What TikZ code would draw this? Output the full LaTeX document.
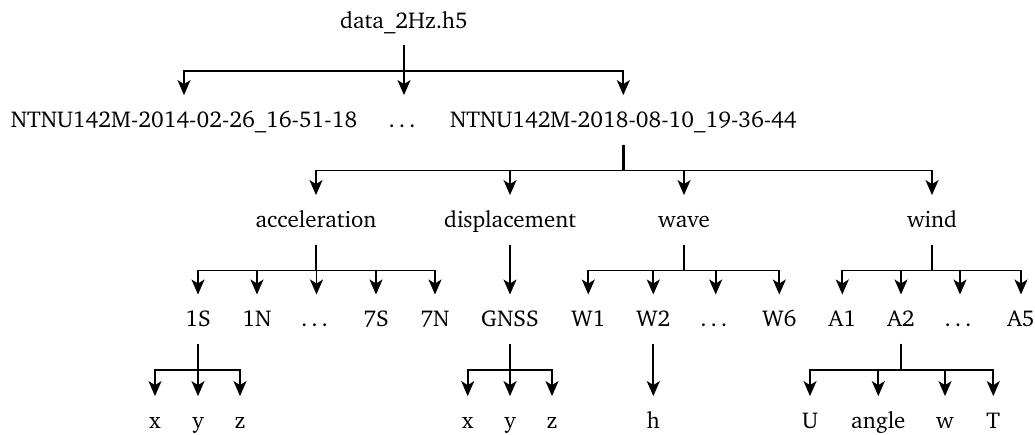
\documentclass[tikz,border=0pt]{standalone}
\usepackage[T1]{fontenc}
\usepackage{charter}
\usetikzlibrary{arrows.meta}
\begin{document}
\begin{tikzpicture}[x=1pt,y=-1pt,
  lbl/.style={anchor=base,inner xsep=0pt,inner ysep=13pt,text height=19pt,text depth=4pt,font=\fontsize{22.9}{26}\selectfont},
  arr/.style={line width=1.8pt,-{Stealth[length=15pt,width=13pt,inset=4pt]}},
  stem/.style={line width=2.8pt}]
\useasboundingbox (0,0) rectangle (1035,434);
% level 0
\node[lbl] (root) at (404,28) {data\_2Hz.h5};
% level 1
\node[lbl] (n14) at (184,127.3) {NTNU142M-2014-02-26\_16-51-18};
\node[lbl] (d1) at (404,127.3) {\dots};
\node[lbl] (n18) at (623.3,127.3) {NTNU142M-2018-08-10\_19-36-44};
% level 2
\node[lbl] (acc) at (316,227.3) {acceleration};
\node[lbl] (dis) at (510,227.3) {displacement};
\node[lbl] (wav) at (684,227.3) {wave};
\node[lbl] (win) at (932,227.3) {wind};
% level 3
\node[lbl] (s1) at (198,326.7) {1S};
\node[lbl] (n1) at (257,326.7) {1N};
\node[lbl] (da) at (316.5,326.7) {\dots};
\node[lbl] (s7) at (376,326.7) {7S};
\node[lbl] (n7) at (435,326.7) {7N};
\node[lbl] (gnss) at (510,326.7) {GNSS};
\node[lbl] (w1) at (588.3,326.7) {W1};
\node[lbl] (w2) at (653.3,326.7) {W2};
\node[lbl] (dw) at (715.7,326.7) {\dots};
\node[lbl] (w6) at (779.3,326.7) {W6};
\node[lbl] (a1) at (842.3,326.7) {A1};
\node[lbl] (a2) at (901,326.7) {A2};
\node[lbl] (dd) at (960,326.7) {\dots};
\node[lbl] (a5) at (1021,326.7) {A5};
% level 4
\node[lbl] (sx) at (155,428.3) {x};
\node[lbl] (sy) at (198,428.3) {y};
\node[lbl] (sz) at (240,428.3) {z};
\node[lbl] (gx) at (467.7,428.3) {x};
\node[lbl] (gy) at (510,428.3) {y};
\node[lbl] (gz) at (552,428.3) {z};
\node[lbl] (h) at (653.3,428.3) {h};
\node[lbl] (u) at (810,428.3) {U};
\node[lbl] (ang) at (878.3,428.3) {angle};
\node[lbl] (w) at (945,428.3) {w};
\node[lbl] (t) at (993.3,428.3) {T};
% connectors
\foreach \p/\cs in {root/{n14,d1,n18},n18/{acc,dis,wav,win},acc/{s1,n1,da,s7,n7},dis/{gnss},wav/{w1,w2,dw,w6},win/{a1,a2,dd,a5},s1/{sx,sy,sz},gnss/{gx,gy,gz},w2/{h},a2/{u,ang,w,t}}{
  \foreach \c in \cs {\draw[arr] (\p.south) -- ++(0,26) -| (\c.north);}
}
\foreach \p in {root,n18,acc,wav,win,s1,gnss,a2}{\draw[stem] (\p.south) -- ++(0,26);}
\end{tikzpicture}
\end{document}
